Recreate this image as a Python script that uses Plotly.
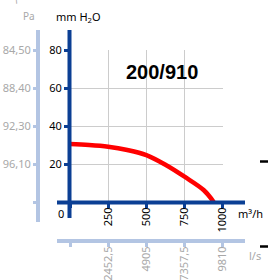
import plotly.graph_objects as go

W, H = 268, 280

# Data
flow_m3h = [0, 125, 250, 375, 500, 625, 750, 875, 941]
pressure_mmH2O = [30.5, 30.0, 29.1, 27.4, 24.7, 19.6, 13.3, 6.3, 0]

x_ticks = [0, 250, 500, 750, 1000]
x_ticktext = ["", "250", "500", "750", "1000"]
y_ticks = [0, 20, 40, 60, 80]
y_ticktext = ["", "20", "40", "60", "80"]
pa_ticktext = ["", "96,10", "92,30", "88,40", "84,50"]
ls_ticktext = ["", "2452,5", "4905", "7357,5", "9810"]
model = "200/910"

DARK = "#0b3f94"
LIGHT = "#b3c5e3"
GRAY = "#a8a8a8"
FONT = "Noto Sans"

def px(x):
    return x / W

def py(y):
    return 1 - y / H

x0, x1 = 70, 222.7
y0, y1 = 202, 50

fig = go.Figure()
fig.add_trace(go.Scatter(x=flow_m3h, y=pressure_mmH2O, mode="lines",
                         line=dict(color="#ff0000", width=4.5, shape="spline"),
                         hoverinfo="skip", showlegend=False))
fig.add_trace(go.Scatter(x=[0, 1000], y=[0, 80], xaxis="x2", yaxis="y2",
                         mode="markers", marker=dict(opacity=0), showlegend=False,
                         hoverinfo="skip"))

shapes = [
    dict(type="line", xref="paper", yref="paper", x0=px(38), x1=px(38), y0=py(30), y1=py(222),
         line=dict(color=LIGHT, width=4)),
    dict(type="line", xref="paper", yref="paper", x0=px(57), x1=px(245), y0=py(241), y1=py(241),
         line=dict(color=LIGHT, width=4)),
    dict(type="line", xref="paper", yref="paper", x0=px(69.5), x1=px(69.5), y0=py(30), y1=py(218),
         line=dict(color=DARK, width=4)),
    dict(type="line", xref="paper", yref="paper", x0=px(57), x1=px(245), y0=py(202.5), y1=py(202.5),
         line=dict(color=DARK, width=4)),
    dict(type="line", xref="paper", yref="paper", x0=px(260), x1=px(268), y0=py(161.5), y1=py(161.5),
         line=dict(color="#000000", width=2.5)),
    dict(type="line", xref="paper", yref="paper", x0=px(260), x1=px(268), y0=py(246.5), y1=py(246.5),
         line=dict(color="#000000", width=2.5)),
]

annotations = [
    dict(text="0", x=px(61), y=py(213), xref="paper", yref="paper", showarrow=False,
         font=dict(family=FONT, size=11, color="#000"), xanchor="center", yanchor="middle"),
    dict(text="m³/h", x=px(236), y=py(213), xref="paper", yref="paper", showarrow=False,
         font=dict(family=FONT, size=11, color="#000"), xanchor="left", yanchor="middle"),
    dict(text="l/s", x=px(247), y=py(255), xref="paper", yref="paper", showarrow=False,
         font=dict(family=FONT, size=11, color=GRAY), xanchor="left", yanchor="middle"),
    dict(text="Pa", x=px(29), y=py(16), xref="paper", yref="paper", showarrow=False,
         font=dict(family=FONT, size=10, color=GRAY), xanchor="center", yanchor="middle"),
    dict(text="7", x=px(15), y=py(0), xref="paper", yref="paper", showarrow=False, textangle=-30,
         font=dict(family=FONT, size=9, color=GRAY), xanchor="center", yanchor="middle"),
    dict(text="mm H<sub>2</sub>O", x=px(78), y=py(17), xref="paper", yref="paper", showarrow=False,
         font=dict(family=FONT, size=11, color="#000"), xanchor="center", yanchor="middle"),
    dict(text="<b>" + model + "</b>", x=px(162), y=py(72.5), xref="paper", yref="paper", showarrow=False,
         font=dict(family="Liberation Sans", size=20, color="#000"), xanchor="center", yanchor="middle"),
]

common = dict(zeroline=False, showline=False, automargin=False, fixedrange=True)

fig.update_layout(
    width=W, height=H,
    margin=dict(l=0, r=0, t=0, b=0, autoexpand=False),
    paper_bgcolor="white", plot_bgcolor="white",
    showlegend=False,
    shapes=shapes, annotations=annotations,
    xaxis=dict(domain=[px(x0), px(x1)], range=[0, 1000], tickvals=x_ticks, ticktext=x_ticktext,
               showgrid=True, gridcolor="#cccccc", gridwidth=1,
               ticks="outside", ticklen=5, tickwidth=3, tickcolor=DARK, tickangle=-90,
               ticklabelstandoff=-5,
               tickfont=dict(family=FONT, size=11, color="#000"), anchor="y", **common),
    yaxis=dict(domain=[py(y0), py(y1)], range=[0, 80], tickvals=y_ticks, ticktext=y_ticktext,
               showgrid=True, gridcolor="#cccccc", gridwidth=1,
               ticks="outside", ticklen=5, tickwidth=3, tickcolor=DARK,
               tickfont=dict(family=FONT, size=11, color="#000"), anchor="x", **common),
    xaxis2=dict(overlaying="x", anchor="free", position=py(241), side="bottom",
                range=[0, 1000], tickvals=x_ticks, ticktext=ls_ticktext, showgrid=False,
                ticks="outside", ticklen=5, tickwidth=3, tickcolor=LIGHT, tickangle=-90,
                ticklabelstandoff=-5,
                tickfont=dict(family=FONT, size=11, color=GRAY), **common),
    yaxis2=dict(overlaying="y", anchor="free", position=px(38), side="left",
                range=[0, 80], tickvals=y_ticks, ticktext=pa_ticktext, showgrid=False,
                ticks="outside", ticklen=5, tickwidth=3, tickcolor=LIGHT,
                tickfont=dict(family=FONT, size=11, color=GRAY), **common),
)

fig.write_html("out.html", config={"displayModeBar": False},
               post_script="document.body.style.margin='0';document.body.style.padding='0';")
